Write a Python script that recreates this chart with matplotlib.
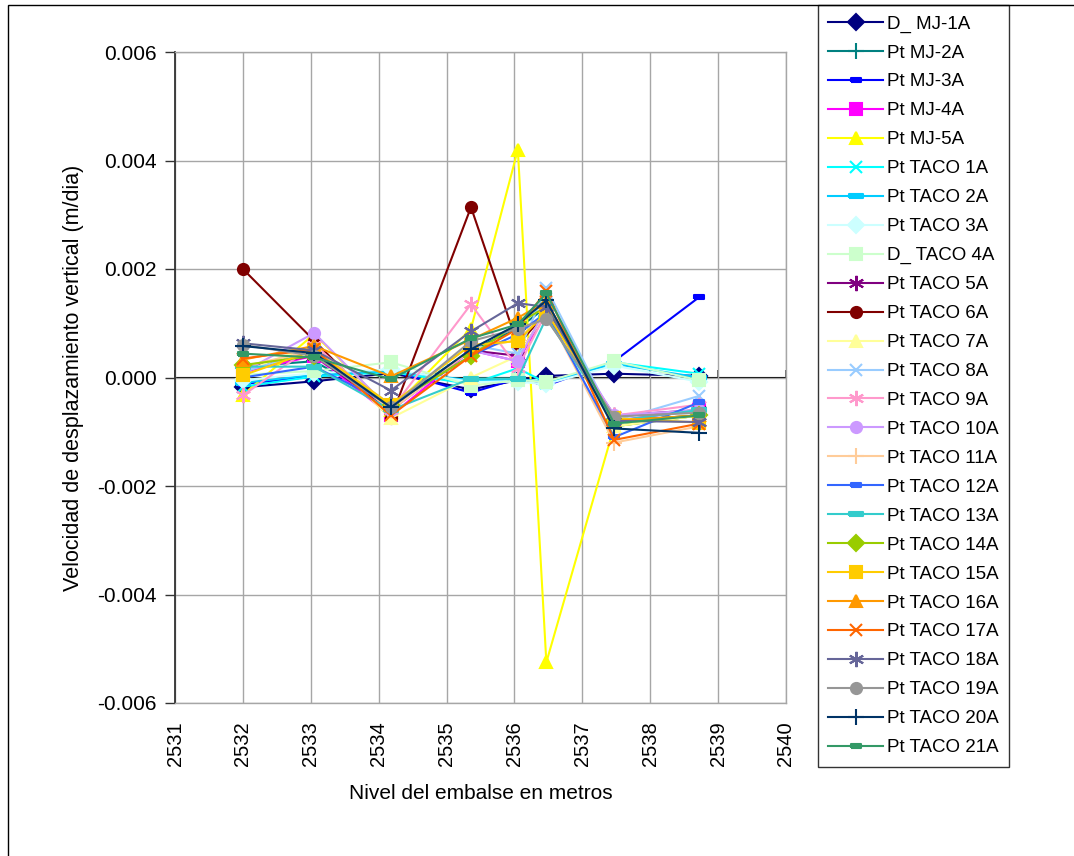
import matplotlib
matplotlib.use('Agg')
import matplotlib.pyplot as plt
import matplotlib.ticker as mticker
from matplotlib.patches import Rectangle

plt.rcParams['font.family'] = ['Liberation Sans', 'DejaVu Sans']
plt.rcParams['axes.unicode_minus'] = False

# nivel del embalse (m)
nivel = [2532.0, 2533.05, 2534.18, 2535.36, 2536.05, 2536.47, 2537.47, 2538.72]

nombres = ['D_ MJ-1A', 'Pt MJ-2A', 'Pt MJ-3A', 'Pt MJ-4A', 'Pt MJ-5A',
           'Pt TACO 1A', 'Pt TACO 2A', 'Pt TACO 3A', 'D_ TACO 4A', 'Pt TACO 5A',
           'Pt TACO 6A', 'Pt TACO 7A', 'Pt TACO 8A', 'Pt TACO 9A', 'Pt TACO 10A',
           'Pt TACO 11A', 'Pt TACO 12A', 'Pt TACO 13A', 'Pt TACO 14A', 'Pt TACO 15A',
           'Pt TACO 16A', 'Pt TACO 17A', 'Pt TACO 18A', 'Pt TACO 19A', 'Pt TACO 20A',
           'Pt TACO 21A']

# velocidad de desplazamiento vertical (m/dia), una lista por punto
mj_1a = [-0.00018, -0.00007, 0.00008, -0.00022, -0.00005, 0.00003, 0.00007, 0.00003]
mj_2a = [0.0002, 0.0003, -0.0005, 0.0005, 0.0009, 0.0013, -0.0009, -0.0007]
mj_3a = [-0.00012, 0.00002, 0.00012, -0.00028, -0.00002, -0.00015, 0.0003, 0.00148]
mj_4a = [0.0001, 0.0004, -0.0007, 0.0005, 0.0003, 0.0012, -0.0008, -0.0006]
mj_5a = [-0.00032, 0.0008, -0.0006, 0.0009, 0.0042, -0.00525, -0.0009, -0.0007]
taco_1a = [-0.00017, 0.00002, 0.0001, -0.00012, 0.00017, -0.0001, 0.00028, 0.00007]
taco_2a = [-0.0001, 0.00005, 0.00012, -0.00005, -0.00003, -0.00008, 0.00025, 0.0]
taco_3a = [-0.00005, 0.00008, 0.00015, -0.00008, -0.00008, -0.00012, 0.00022, -0.00008]
taco_4a = [0.00005, 0.00012, 0.00028, -0.00015, -0.00005, -0.00008, 0.0003, -0.00005]
taco_5a = [0.0002, 0.0004, -0.0006, 0.0005, 0.0004, 0.0012, -0.0007, -0.0006]
taco_6a = [0.002, 0.00068, -0.00075, 0.00314, 0.0006, 0.0012, -0.0008, -0.0007]
taco_7a = [0.0001, 0.0006, -0.00075, 0.0, 0.0004, 0.0012, -0.0009, -0.0007]
taco_8a = [0.0001, 0.0005, -0.0005, 0.0006, 0.00044, 0.00165, -0.0008, -0.00034]
taco_9a = [-0.00033, 0.0006, -0.0006, 0.00135, 0.00018, 0.0012, -0.0007, -0.0005]
taco_10a = [0.0001, 0.00082, -0.0006, 0.0005, 0.0003, 0.0013, -0.0007, -0.0006]
taco_11a = [0.0002, 0.0005, -0.0006, 0.0005, 0.0007, 0.0012, -0.0012, -0.0009]
taco_12a = [0.0, 0.0002, -0.0005, 0.0004, 0.0008, 0.0012, -0.0011, -0.00046]
taco_13a = [0.0002, 0.0002, -0.0006, -0.00002, -0.00002, 0.0011, -0.0008, -0.0006]
taco_14a = [0.00023, 0.0004, -0.0005, 0.0004, 0.001, 0.0013, -0.0008, -0.0007]
taco_15a = [0.00004, 0.0005, -0.0005, 0.0006, 0.00067, 0.0012, -0.00075, -0.00083]
taco_16a = [0.00033, 0.00058, 0.00002, 0.0007, 0.0011, 0.0014, -0.0008, -0.0007]
taco_17a = [0.00035, 0.00052, -0.0007, 0.0004, 0.0009, 0.0016, -0.00115, -0.00085]
taco_18a = [0.00063, 0.0005, -0.00024, 0.00085, 0.00137, 0.0013, -0.0008, -0.00082]
taco_19a = [0.0006, 0.0004, -0.00055, 0.00067, 0.0009, 0.00108, -0.00072, -0.00065]
taco_20a = [0.00058, 0.00045, -0.00055, 0.00052, 0.00098, 0.00142, -0.00094, -0.00102]
taco_21a = [0.00044, 0.00037, -0.00003, 0.00072, 0.00098, 0.00155, -0.00085, -0.0007]

series = [mj_1a, mj_2a, mj_3a, mj_4a, mj_5a, taco_1a, taco_2a, taco_3a, taco_4a,
          taco_5a, taco_6a, taco_7a, taco_8a, taco_9a, taco_10a, taco_11a, taco_12a,
          taco_13a, taco_14a, taco_15a, taco_16a, taco_17a, taco_18a, taco_19a,
          taco_20a, taco_21a]

colores = ['#000080', '#008080', '#0000FF', '#FF00FF', '#FFFF00', '#00FFFF', '#00CCFF',
           '#CCFFFF', '#CCFFCC', '#800080', '#800000', '#FFFF99', '#99CCFF', '#FF99CC',
           '#CC99FF', '#FFCC99', '#3366FF', '#33CCCC', '#99CC00', '#FFCC00', '#FF9900',
           '#FF6600', '#666699', '#969696', '#003366', '#339966']

# marcadores estilo excel
guion = [(-1, -0.35), (1, -0.35), (1, 0.35), (-1, 0.35), (-1, -0.35)]
guion_largo = [(-1, -0.25), (1, -0.25), (1, 0.25), (-1, 0.25), (-1, -0.25)]
asterisco = (6, 2, 0)
marcadores = ['D', '+', guion, 's', '^', 'x', guion_largo, 'D', 's', asterisco,
              'o', '^', 'x', asterisco, 'o', '+', guion, guion_largo, 'D', 's', '^',
              'x', asterisco, 'o', '+', guion]
tamanos = {'D': 8, '+': 11, 's': 8, '^': 9, 'x': 9, 'o': 8}

fig = plt.figure(figsize=(10.74, 8.56), dpi=100)
W, H = 1074.0, 856.0
ax = fig.add_axes([175 / W, (H - 703) / H, (786 - 175) / W, (703 - 52) / H])

for vals, nom, col, mk in zip(series, nombres, colores, marcadores):
    if isinstance(mk, str):
        ms = tamanos[mk]
    elif mk is asterisco:
        ms = 11
    elif mk is guion_largo:
        ms = 10
    else:
        ms = 7
    ax.plot(nivel, vals, color=col, lw=1.5, marker=mk, markersize=ms,
            markerfacecolor=col, markeredgecolor=col, markeredgewidth=1.5,
            label=nom)

ax.set_xlim(2531, 2540)
ax.set_ylim(-0.006, 0.006)
ax.xaxis.set_major_locator(mticker.MultipleLocator(1))
ax.yaxis.set_major_locator(mticker.MultipleLocator(0.002))
ax.yaxis.set_major_formatter(mticker.FormatStrFormatter('%.3f'))
ax.grid(True, color='#A6A6A6', lw=1.0)
ax.set_axisbelow(True)

for s in ['top', 'right', 'bottom']:
    ax.spines[s].set_color('#A6A6A6')
    ax.spines[s].set_linewidth(1.0)
ax.spines['left'].set_color('#333333')
ax.spines['left'].set_linewidth(1.3)

ax.tick_params(axis='y', direction='out', length=7, width=1.0, labelsize=15,
               pad=6, color='#333333')
ax.tick_params(axis='x', length=0, labelsize=14.5, pad=13, labelrotation=90)

# eje horizontal en cero con sus marcas
eje0 = ax.secondary_xaxis(0.5)
eje0.spines['bottom'].set_color('#666666')
eje0.spines['bottom'].set_linewidth(1.5)
eje0.xaxis.set_major_locator(mticker.MultipleLocator(1))
eje0.xaxis.set_major_formatter(mticker.NullFormatter())
eje0.tick_params(direction='out', length=5, width=1.2, color='#444444')

ax.set_xlabel('Nivel del embalse en metros', fontsize=15, labelpad=13)
ax.set_ylabel('Velocidad de desplazamiento vertical (m/dia)', fontsize=15.5,
              labelpad=10)

leg = ax.legend(loc='upper left', bbox_to_anchor=(818 / W, 1 - 5 / H),
                bbox_transform=fig.transFigure, frameon=True, fancybox=False,
                edgecolor='black', fontsize=13.5, handlelength=2.9,
                handletextpad=0.25, labelspacing=0.63, borderpad=0.55,
                borderaxespad=0)
leg.get_frame().set_linewidth(1.0)

# borde del area del grafico
fig.patches.append(Rectangle((8 / W, -0.1), 1.0, 1 - 5 / H + 0.1,
                             transform=fig.transFigure, fill=False,
                             edgecolor='black', lw=1.0))

fig.savefig('out.png', dpi=100)
